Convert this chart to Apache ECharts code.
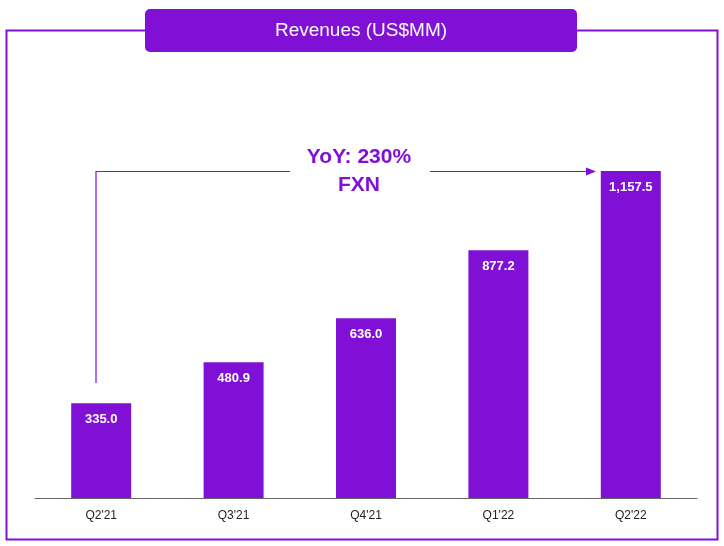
<!DOCTYPE html>
<html><head><meta charset="utf-8">
<script src="https://cdn.jsdelivr.net/npm/echarts@6/dist/echarts.min.js"></script>
<style>html,body{margin:0;background:#fff}#main{width:724px;height:546px}</style>
</head><body><div id="main"></div>
<script>
var quarters = ["Q2'21", "Q3'21", "Q4'21", "Q1'22", "Q2'22"];
var revenues = [335.0, 480.9, 636.0, 877.2, 1157.5];
var titleText = 'Revenues (US$MM)';
var yoyText = 'YoY: 230%\nFXN';

var purple = '#8010D6';
var chart = echarts.init(document.getElementById('main'));

chart.setOption({
    animation: false,
    grid: {left: 35, right: 27, top: 102.5, bottom: 48},
    xAxis: {
        type: 'category',
        data: quarters,
        axisTick: {show: false},
        axisLine: {lineStyle: {color: '#666', width: 1}},
        axisLabel: {color: '#222', fontSize: 12, fontFamily: 'Liberation Sans', margin: 12}
    },
    yAxis: {type: 'value', min: 0, max: 1400, show: false},
    series: [{
        type: 'bar',
        data: revenues,
        barWidth: 60,
        itemStyle: {color: purple},
        label: {
            show: true,
            position: 'insideTop',
            distance: 10,
            color: '#fff',
            fontWeight: 'bold',
            fontSize: 13,
            fontFamily: 'Liberation Sans',
            formatter: function (p) {
                return p.value.toLocaleString('en-US', {minimumFractionDigits: 1});
            }
        }
    }],
    graphic: [
        {type: 'rect', shape: {x: 6.5, y: 30.5, width: 711, height: 509}, style: {fill: 'none', stroke: purple, lineWidth: 2}},
        {type: 'rect', shape: {x: 145, y: 9, width: 432, height: 43, r: 5}, style: {fill: purple}},
        {type: 'text', x: 361, y: 31, style: {text: titleText, fill: '#fff', fontSize: 19, fontFamily: 'Liberation Sans', align: 'center', verticalAlign: 'middle'}},
        {type: 'polyline', shape: {points: [[96, 383], [96, 171.5], [290, 171.5]]}, style: {stroke: purple, lineWidth: 1.2, fill: 'none'}},
        {type: 'line', shape: {x1: 430, y1: 171.5, x2: 588, y2: 171.5}, style: {stroke: purple, lineWidth: 1.2}},
        {type: 'polygon', shape: {points: [[596, 171.5], [586, 167.5], [586, 175.5]]}, style: {fill: purple}},
        {type: 'text', x: 359, y: 171, style: {text: yoyText, fill: purple, fontSize: 21, fontWeight: 'bold', fontFamily: 'Liberation Sans', align: 'center', verticalAlign: 'middle', lineHeight: 28}}
    ]
});
</script>
</body></html>
